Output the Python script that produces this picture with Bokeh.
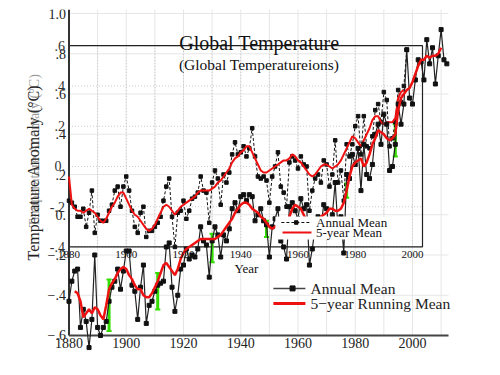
import math
from bokeh.plotting import figure
from bokeh.models import Range1d
from bokeh.core.properties import value
from bokeh.embed import file_html
from bokeh.resources import INLINE

# ---------------- data ----------------
# newer chart (outer axes), annual mean 1880-2012
years_new = list(range(1880, 2013))
annual_new = [
    -0.43, -0.33, -0.28, -0.27, -0.56, -0.47, -0.53, -0.66, -0.52, -0.20,
    -0.56, -0.60, -0.56, -0.53, -0.43, -0.36, -0.33, -0.27, -0.37, -0.28,
    -0.18, -0.18, -0.35, -0.38, -0.52, -0.36, -0.25, -0.54, -0.45, -0.43,
    -0.38, -0.35, -0.34, -0.33, -0.16, -0.14, -0.36, -0.48, -0.40, -0.27,
    -0.25, -0.17, -0.22, -0.20, -0.21, -0.17, -0.06, -0.13, -0.15, -0.31,
    -0.13, -0.06, -0.10, -0.21, -0.10, -0.13, -0.07, 0.03, 0.06, 0.02,
    0.09, 0.10, 0.07, 0.10, 0.09, -0.03, 0.00, 0.03, -0.03, -0.05,
    -0.21, -0.06, -0.02, 0.03, -0.13, -0.16, -0.22, 0.04, 0.06, 0.02,
    -0.02, 0.08, 0.03, 0.05, -0.25, -0.17, -0.06, -0.01, -0.06, 0.05,
    0.03, -0.08, 0.00, 0.16, -0.08, -0.01, -0.19, 0.20, 0.18, 0.30,
    0.25, 0.33, 0.12, 0.35, 0.20, 0.18, 0.25, 0.40, 0.45, 0.35,
    0.50, 0.45, 0.22, 0.24, 0.35, 0.55, 0.45, 0.55, 0.82, 0.58,
    0.55, 0.67, 0.77, 0.76, 0.67, 0.87, 0.75, 0.83, 0.65, 0.79,
    0.92, 0.77, 0.75,
]
# newer chart, 5-year running mean 1882-2010
run_years_new = list(range(1882, 2011))
run_new = [
    -0.38, -0.39, -0.43, -0.51, -0.49, -0.47, -0.49, -0.46,
    -0.47, -0.50, -0.52, -0.45, -0.37, -0.34, -0.32, -0.29, -0.27, -0.26,
    -0.27, -0.30, -0.32, -0.35, -0.37, -0.37, -0.40, -0.41, -0.41, -0.39,
    -0.36, -0.33, -0.29, -0.25, -0.24, -0.26, -0.28, -0.30, -0.27, -0.22,
    -0.19, -0.17, -0.16, -0.15, -0.14, -0.13, -0.12, -0.12, -0.12, -0.12,
    -0.12, -0.12, -0.11, -0.10, -0.08, -0.06, -0.04, -0.02, 0.01, 0.03,
    0.05, 0.06, 0.06, 0.05, 0.03, 0.02, 0.01, -0.01, -0.02, -0.04,
    -0.06, -0.07, -0.06, -0.05, -0.05, -0.06, -0.04, -0.01, 0.03, 0.05,
    0.04, 0.03, 0.00, -0.03, -0.06, -0.07, -0.05, -0.03, -0.01, 0.00,
    0.01, 0.03, 0.03, 0.02, 0.02, 0.03, 0.06, 0.12, 0.19, 0.24,
    0.26, 0.27, 0.28, 0.24, 0.26, 0.30, 0.35, 0.38, 0.42, 0.41,
    0.40, 0.38, 0.37, 0.38, 0.40, 0.52, 0.58, 0.60, 0.62, 0.63,
    0.66, 0.70, 0.74, 0.77, 0.77, 0.79, 0.78, 0.79, 0.79, 0.80,
    0.83,
]
# older chart (inner box), annual mean 1880-1998
years_old = list(range(1880, 1999))
annual_old = [
    -0.17, -0.18, -0.20, -0.25, -0.25, -0.21, -0.30, -0.23, -0.12, -0.33,
    -0.24, -0.27, -0.27, -0.27, -0.22, -0.19, -0.12, -0.10, -0.20, -0.10,
    -0.05, -0.12, -0.22, -0.30, -0.33, -0.23, -0.20, -0.35, -0.32, -0.32,
    -0.30, -0.28, -0.25, -0.17, -0.10, -0.06, -0.25, -0.40, -0.23, -0.22,
    -0.17, -0.26, -0.22, -0.16, -0.15, -0.13, -0.05, -0.12, -0.13, -0.28,
    -0.08, -0.02, -0.06, -0.19, -0.04, -0.08, -0.03, 0.06, 0.12, 0.06,
    0.07, 0.10, 0.05, 0.09, 0.19, 0.05, -0.05, -0.06, -0.05, -0.07,
    -0.18, -0.05, 0.00, 0.07, -0.10, -0.13, -0.20, 0.02, 0.05, 0.03,
    -0.01, 0.05, 0.01, 0.00, -0.22, -0.12, -0.06, -0.04, -0.08, 0.03,
    0.01, -0.10, -0.04, 0.13, -0.08, -0.02, -0.17, 0.11, 0.05, 0.11,
    0.20, 0.25, 0.06, 0.25, 0.10, 0.09, 0.15, 0.28, 0.31, 0.22,
    0.37, 0.33, 0.10, 0.14, 0.22, 0.38, 0.32, 0.40, 0.58,
]
# older chart, 5-year mean 1880-1997
run_years_old = list(range(1880, 1998))
run_old = [
    -0.05, -0.19, -0.21, -0.22, -0.22, -0.23, -0.22, -0.21, -0.22, -0.23,
    -0.25, -0.27, -0.28, -0.26, -0.23, -0.20, -0.18, -0.15, -0.13, -0.13,
    -0.16, -0.19, -0.22, -0.24, -0.25, -0.27, -0.29, -0.31, -0.32, -0.31,
    -0.29, -0.26, -0.23, -0.20, -0.19, -0.20, -0.22, -0.24, -0.22, -0.20,
    -0.19, -0.18, -0.17, -0.16, -0.15, -0.13, -0.12, -0.12, -0.12, -0.12,
    -0.11, -0.10, -0.08, -0.07, -0.05, -0.03, -0.01, 0.02, 0.04, 0.05,
    0.07, 0.08, 0.10, 0.10, 0.07, 0.04, 0.01, -0.02, -0.03, -0.03,
    -0.02, -0.01, 0.00, 0.01, 0.02, 0.03, 0.03, 0.04, 0.06, 0.05,
    0.03, 0.02, 0.00, -0.02, -0.04, -0.05, -0.04, -0.02, 0.00, 0.01,
    0.01, 0.00, -0.01, 0.00, 0.01, 0.03, 0.06, 0.09, 0.12, 0.15,
    0.14, 0.12, 0.10, 0.13, 0.16, 0.19, 0.23, 0.25, 0.25, 0.22,
    0.21, 0.22, 0.22, 0.22, 0.24, 0.34, 0.37, 0.38,
]
# green uncertainty bars (newer chart)
err_years = [1894, 1911, 1930, 1949, 1977, 1994]
err_center = [-0.45, -0.38, -0.165, -0.07, 0.12, 0.37]
err_half = [0.128, 0.091, 0.071, 0.04, 0.035, 0.08]

# ticks and labels
x_ticks = [1880, 1900, 1920, 1940, 1960, 1980, 2000]
x_tick_labels = ["1880", "1900", "1920", "1940", "1960", "1980", "2000"]
y_ticks = [-0.6, -0.4, -0.2, 0.0, 0.2, 0.4, 0.6, 0.8, 1.0]
y_tick_labels = ["\u2212.6", "\u2212.4", "\u2212.2", "0.", ".2", ".4", ".6", ".8", "1.0"]
old_y_ticks = [-0.4, -0.2, 0.0, 0.2, 0.4, 0.6]
old_y_tick_labels = ["-.4", "-.2", "0.", ".2", ".4", ".6"]
grid_years = list(range(1880, 2020, 10))
old_grid_years = list(range(1890, 2001, 10))

SERIF = "Liberation Serif"
RED = "#ee1111"
GREEN = "#33dd00"
X0, X1 = 1880, 2012.58          # outer plotting area
Y0, Y1 = -0.6, 1.02
OLD_X0, OLD_X1, OLD_Y0, OLD_Y1 = 1880, 2003.5, -0.4, 0.6   # inner box

p = figure(width=500, height=375, output_backend="svg", toolbar_location=None,
           x_range=Range1d(1856.07, 2030.75), y_range=Range1d(-0.7988, Y1),
           x_axis_location=None, y_axis_location=None,
           min_border_left=0, min_border_right=0, min_border_top=9,
           min_border_bottom=0)
p.extra_y_ranges = {"old": Range1d(-1.0388, 0.78)}
p.outline_line_color = None
p.background_fill_color = "white"
p.border_fill_color = "white"
p.xgrid.visible = False
p.ygrid.visible = False

# outer grid
p.segment(x0=grid_years, x1=grid_years, y0=[Y0] * len(grid_years),
          y1=[Y1] * len(grid_years), line_color="#e6e6e6", line_width=1)
p.segment(x0=[X0] * len(y_ticks), x1=[X1] * len(y_ticks), y0=y_ticks, y1=y_ticks,
          line_color="#e6e6e6", line_width=1)

# inner (older) chart grid and frame
p.segment(x0=old_grid_years, x1=old_grid_years, y0=[OLD_Y0] * len(old_grid_years),
          y1=[OLD_Y1] * len(old_grid_years), y_range_name="old",
          line_color="#cccccc", line_dash="1 2", line_width=1)
p.segment(x0=[OLD_X0] * len(old_y_ticks), x1=[OLD_X1] * len(old_y_ticks),
          y0=old_y_ticks, y1=old_y_ticks, y_range_name="old",
          line_color="#cccccc", line_dash="1 2", line_width=1)
p.quad(left=[OLD_X0], right=[OLD_X1], bottom=[OLD_Y0], top=[OLD_Y1],
       y_range_name="old", fill_color=None, line_color="#222222", line_width=1.2)

# outer axis lines
p.segment(x0=[X0], x1=[X0], y0=[Y0], y1=[Y1], line_color="#333333", line_width=2)
p.segment(x0=[X0], x1=[X1], y0=[Y0], y1=[Y0], line_color="#444444", line_width=2)

# green error bars
lo = [c - h for c, h in zip(err_center, err_half)]
hi = [c + h for c, h in zip(err_center, err_half)]
p.segment(x0=err_years, x1=err_years, y0=lo, y1=hi, line_color=GREEN, line_width=3)
p.segment(x0=[y - 0.9 for y in err_years], x1=[y + 0.9 for y in err_years],
          y0=lo, y1=lo, line_color=GREEN, line_width=2)
p.segment(x0=[y - 0.9 for y in err_years], x1=[y + 0.9 for y in err_years],
          y0=hi, y1=hi, line_color=GREEN, line_width=2)

# older chart series
p.line(years_old, annual_old, y_range_name="old", line_color="#111111",
       line_width=1, line_dash="3 2")
p.scatter(years_old, annual_old, y_range_name="old", marker="square", size=3.5,
          fill_color="#111111", line_color="#111111")
p.line(run_years_old, run_old, y_range_name="old", line_color=RED, line_width=2)

# newer chart series
p.line(years_new, annual_new, line_color="#222222", line_width=1.2)
p.scatter(years_new, annual_new, marker="square", size=4,
          fill_color="#111111", line_color="#111111")
p.line(run_years_new, run_new, line_color=RED, line_width=2.5)

# inner legend (with white box)
p.quad(left=[1952.1], right=[1993.0], bottom=[-0.123], top=[-0.009],
       fill_color="white", line_color=None)
p.line([1954.2, 1964.7], [-0.0385, -0.0385], line_color="#111111",
       line_width=1, line_dash="3 2")
p.scatter([1959.4], [-0.0385], marker="square", size=3.5, fill_color="#111111",
          line_color="#111111")
p.line([1954.6, 1964.7], [-0.088, -0.088], line_color=RED, line_width=2)
p.text(x=[1966.3, 1966.3], y=[-0.0385, -0.088], text=["Annual Mean", "5-year Mean"],
       text_font=value(SERIF), text_font_size="13px", text_baseline="middle",
       text_color="#111111")

# outer legend
p.line([1951.4, 1962.6], [-0.366, -0.366], line_color="#444444", line_width=1.5)
p.scatter([1958.1], [-0.366], marker="square", size=5, fill_color="#111111",
          line_color="#111111")
p.line([1951.4, 1962.6], [-0.441, -0.441], line_color=RED, line_width=3)
p.text(x=[1964.4, 1964.4], y=[-0.366, -0.441],
       text=["Annual Mean", "5\u2212year Running Mean"],
       text_font=value(SERIF), text_font_size="15.5px", text_baseline="middle",
       text_color="#222222")

# titles of the inner chart
p.text(x=[1946.5], y=[0.853], text=["Global Temperature"], text_font=value(SERIF),
       text_font_size="20px", text_align="center", text_baseline="middle",
       text_color="#111111")
p.text(x=[1946.4], y=[0.747], text=["(Global Temperatureions)"],
       text_font=value(SERIF), text_font_size="15.5px", text_align="center",
       text_baseline="middle", text_color="#111111")
p.text(x=[1942.0], y=[-0.267], text=["Year"], text_font=value(SERIF),
       text_font_size="13px", text_align="center", text_baseline="middle",
       text_color="#111111")

# outer tick labels
p.text(x=[X0] * len(y_ticks), y=y_ticks, text=y_tick_labels,
       text_font=value(SERIF), text_font_size="14px", text_align="right",
       text_baseline="middle", x_offset=-3, text_color="#222222")
p.text(x=x_ticks, y=[Y0] * len(x_ticks), text=x_tick_labels,
       text_font=value(SERIF), text_font_size="14px", text_align="center",
       text_baseline="top", y_offset=3, text_color="#222222")
# inner axis tick labels
p.text(x=x_ticks, y=[OLD_Y0] * len(x_ticks), text=x_tick_labels, y_range_name="old",
       text_font=value(SERIF), text_font_size="11px", text_align="center",
       text_baseline="top", y_offset=4, text_color="#111111")
p.text(x=[OLD_X0] * len(old_y_ticks), y=old_y_ticks, text=old_y_tick_labels,
       y_range_name="old", text_font=value(SERIF), text_font_size="14px",
       text_align="right", text_baseline="middle", x_offset=-4,
       text_color="#333333")

# y axis titles (outer chart and the ghost of the inner chart)
p.text(x=[1867.6], y=[0.21], text=["Temperature Anomaly (\u00b0C)"],
       text_font=value(SERIF), text_font_size="16px", text_align="center",
       text_baseline="middle", angle=math.pi / 2, text_color="#222222")
p.text(x=[1867.9], y=[0.08], text=["Temperature Anomaly (\u00b0C)"],
       y_range_name="old", text_font=value(SERIF), text_font_size="14px",
       text_align="center", text_baseline="middle", angle=math.pi / 2,
       text_color="#555555", text_alpha=0.6)

open("out.html", "w").write(file_html(p, INLINE))
